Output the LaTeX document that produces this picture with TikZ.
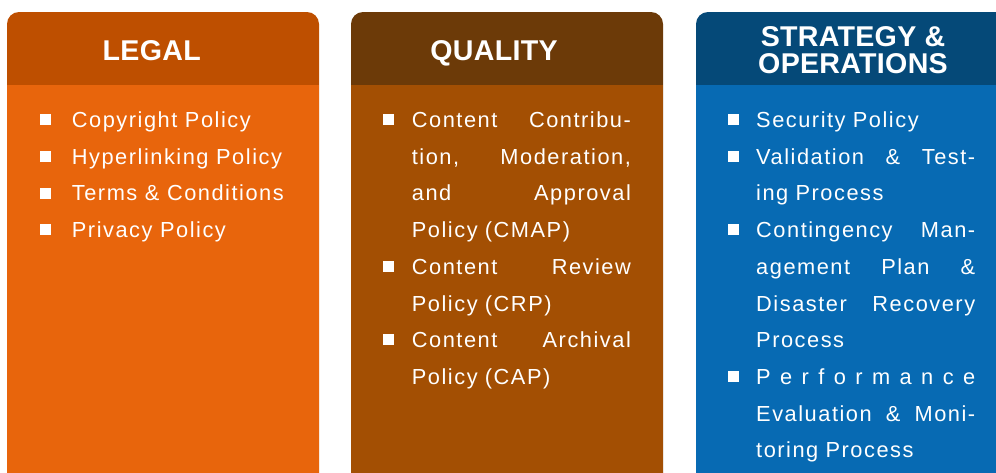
\documentclass[tikz,border=0pt]{standalone}
\usepackage{fontspec}
\setmainfont{Liberation Sans}
\newfontfamily\bodyfont{Liberation Sans}[LetterSpace=7]
\newfontfamily\headfont{Liberation Sans}[LetterSpace=1]
\usetikzlibrary{positioning}

\definecolor{legalhead}{HTML}{BE4F00}
\definecolor{legalbody}{HTML}{E8650C}
\definecolor{qualhead}{HTML}{6C3A08}
\definecolor{qualbody}{HTML}{A34F03}
\definecolor{strathead}{HTML}{054978}
\definecolor{stratbody}{HTML}{076AB3}

\newlength\colwd
\setlength\colwd{219pt}
\newcommand\jline[1]{\makebox[\colwd]{#1}}

\begin{document}
\begin{tikzpicture}
		[x=1pt,y=-1pt,
		head/.style={text=white,inner sep=0pt,anchor=base,align=center,
			font=\headfont\bfseries\fontsize{28.6}{27.3}\selectfont},
		entry/.style={text=white,inner sep=0pt,anchor=base west,
			font=\bodyfont\fontsize{21.8}{36.7}\selectfont},
		para/.style={entry,text width=\colwd,align=left},
		sq/.style={fill=white,inner sep=0pt,minimum size=11pt}]

		\useasboundingbox (0,0) rectangle (996,472);

		% panels
		\fill[legalhead,rounded corners=12pt] (7,12) rectangle (319,500);
		\fill[legalbody] (7,85) rectangle (319,500);
		\fill[qualhead,rounded corners=12pt] (351,12) rectangle (663,500);
		\fill[qualbody] (351,85) rectangle (663,500);
		\fill[strathead,rounded corners=12pt] (696,12) rectangle (1010,500);
		\fill[stratbody] (696,85) rectangle (1010,500);

		% headers
		\node[head] (legal) at (151.7,60.7) {LEGAL};
		\node[head] (quality) at (494,60.5) {QUALITY};
		\node[head] (strategy) at (853,73.3) {STRATEGY \&\\OPERATIONS};

		% legal
		\foreach \t [count=\i] in {Copyright Policy,Hyperlinking Policy,Terms \& Conditions,Privacy Policy}{
			\node[entry] (l\i) at (71.7,{127.5+36.7*(\i-1)}) {\t};
			\node[sq] (bl\i) [left=21pt of l\i.base west,yshift=7.8pt] {};
		}

		% quality
		\node[para] (m1) at (411.7,127.5) {\jline{Content\hfill Contribu-}\\\jline{tion,\hfill Moderation,}\\\jline{and\hfill Approval}\\Policy (CMAP)};
		\node[para] (m2) at (411.7,274.3) {\jline{Content\hfill Review}\\Policy (CRP)};
		\node[para] (m3) at (411.7,347.7) {\jline{Content\hfill Archival}\\Policy (CAP)};
		\foreach \m in {m1,m2,m3}
			\node[sq] (b\m) [left=17.4pt of \m.base west,yshift=7.8pt] {};

		% strategy
		\node[para] (s1) at (756,127.5) {Security Policy};
		\node[para] (s2) at (756,164.2) {\jline{Validation\hfill\&\hfill Test-}\\ing Process};
		\node[para] (s3) at (756,237.6) {\jline{Contingency\hfill Man-}\\\jline{agement\hfill Plan\hfill\&}\\\jline{Disaster\hfill Recovery}\\Process};
		\node[para] (s4) at (756,384.4) {\jline{P\hfill e\hfill r\hfill f\hfill o\hfill r\hfill m\hfill a\hfill n\hfill c\hfill e}\\\jline{Evaluation\hfill\&\hfill Moni-}\\toring Process};
		\foreach \s in {s1,s2,s3,s4}
			\node[sq] (b\s) [left=17pt of \s.base west,yshift=7.8pt] {};
	\end{tikzpicture}
\end{document}
